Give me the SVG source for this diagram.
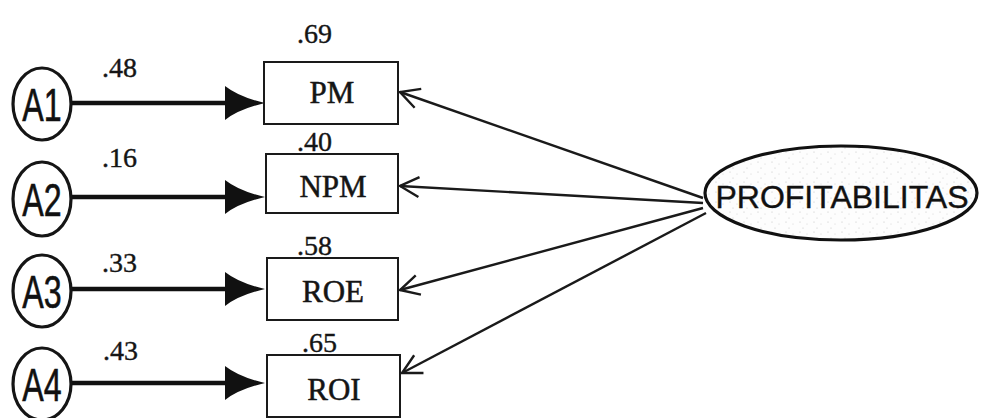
<svg xmlns="http://www.w3.org/2000/svg" width="982" height="418" viewBox="0 0 982 418">
  <style>
    .ind { fill: #fff; stroke: #151515; stroke-width: 3.2; }
    .box { fill: #fff; stroke: #1a1a1a; stroke-width: 2; }
    .lat { stroke: #111; stroke-width: 3.2; }
    .err { font-family: "Liberation Sans", Arial, sans-serif; font-size: 46px; fill: #111; stroke: #111; stroke-width: 0.6; text-anchor: middle; }
    .obs { font-family: "Liberation Serif", "Times New Roman", serif; font-size: 31px; fill: #151515; stroke: #151515; stroke-width: 0.5; text-anchor: middle; }
    .val { font-family: "Liberation Serif", "Times New Roman", serif; font-size: 28px; fill: #151515; stroke: #151515; stroke-width: 0.4; }
    .latt { font-family: "Liberation Sans", Arial, sans-serif; font-size: 32px; fill: #111; stroke: #111; stroke-width: 0.4; text-anchor: middle; }
    .path-err { fill: none; stroke: #111; stroke-width: 4.5; }
    .path-load { fill: none; stroke: #1a1a1a; stroke-width: 2.4; }
  </style>
  <defs>
    <marker id="solidHead" markerUnits="userSpaceOnUse" viewBox="0 0 40 36" markerWidth="40" markerHeight="36" refX="5" refY="18" orient="auto">
      <path d="M0,1 Q14,12 40,18 Q14,24 0,35 Z" fill="#111"/>
    </marker>
    <marker id="openHead" markerUnits="userSpaceOnUse" viewBox="-22 -13 24 26" markerWidth="24" markerHeight="26" refX="0" refY="0" orient="auto">
      <path d="M-19,-10 L0,0 L-19,10" fill="none" stroke="#1a1a1a" stroke-width="2.4"/>
    </marker>
    <!-- light stippled fill for the latent construct -->
    <pattern id="grain" width="14" height="10" patternUnits="userSpaceOnUse">
      <rect width="14" height="10" fill="#fdfdfd"/>
      <circle cx="2" cy="2" r="0.6" fill="#c4c4c4"/>
      <circle cx="9" cy="4" r="0.5" fill="#cfcfcf"/>
      <circle cx="5" cy="8" r="0.6" fill="#c8c8c8"/>
    </pattern>
  </defs>

  <!-- connectors -->
  <g id="connectors">
    <line class="path-err" x1="71" y1="103" x2="230" y2="103" marker-end="url(#solidHead)"/>
    <line class="path-err" x1="71" y1="197" x2="230" y2="197" marker-end="url(#solidHead)"/>
    <line class="path-err" x1="71" y1="289" x2="230" y2="289" marker-end="url(#solidHead)"/>
    <line class="path-err" x1="71" y1="383" x2="230" y2="383" marker-end="url(#solidHead)"/>

    <line class="path-load" x1="703" y1="198" x2="400" y2="92" marker-end="url(#openHead)"/>
    <line class="path-load" x1="703" y1="203" x2="400" y2="186" marker-end="url(#openHead)"/>
    <line class="path-load" x1="703" y1="208" x2="400" y2="290" marker-end="url(#openHead)"/>
    <line class="path-load" x1="706" y1="213" x2="402" y2="373" marker-end="url(#openHead)"/>

    <text class="val" x="102" y="77">.48</text>
    <text class="val" x="102" y="167">.16</text>
    <text class="val" x="102" y="272">.33</text>
    <text class="val" x="103" y="360">.43</text>
  </g>

  <!-- error terms -->
  <g id="A1">
    <ellipse class="ind" cx="42" cy="104" rx="29" ry="36"/>
    <text class="err" transform="translate(42,121) scale(0.7,1)">A1</text>
  </g>
  <g id="A2">
    <ellipse class="ind" cx="42" cy="199" rx="29" ry="37"/>
    <text class="err" transform="translate(42,216) scale(0.7,1)">A2</text>
  </g>
  <g id="A3">
    <ellipse class="ind" cx="42" cy="291" rx="29" ry="36"/>
    <text class="err" transform="translate(42,308) scale(0.7,1)">A3</text>
  </g>
  <g id="A4">
    <ellipse class="ind" cx="42" cy="384" rx="29" ry="36"/>
    <text class="err" transform="translate(42,401) scale(0.7,1)">A4</text>
  </g>

  <!-- observed indicators -->
  <g id="PM">
    <rect class="box" x="264" y="62" width="134" height="62"/>
    <text class="obs" x="332" y="103">PM</text>
    <text class="val" x="297" y="43">.69</text>
  </g>
  <g id="NPM">
    <rect class="box" x="266" y="154" width="132" height="59"/>
    <text class="obs" x="333" y="197">NPM</text>
    <text class="val" x="297" y="151">.40</text>
  </g>
  <g id="ROE">
    <rect class="box" x="267" y="258" width="131" height="62"/>
    <text class="obs" x="333" y="302">ROE</text>
    <text class="val" x="297" y="255">.58</text>
  </g>
  <g id="ROI">
    <rect class="box" x="267" y="355" width="133" height="62"/>
    <text class="obs" x="334" y="400">ROI</text>
    <text class="val" x="302" y="352">.65</text>
  </g>

  <!-- latent construct -->
  <g id="PROFITABILITAS">
    <ellipse cx="841" cy="193" rx="136" ry="47" fill="url(#grain)" class="lat"/>
    <text class="latt" x="842" y="208">PROFITABILITAS</text>
  </g>
</svg>
